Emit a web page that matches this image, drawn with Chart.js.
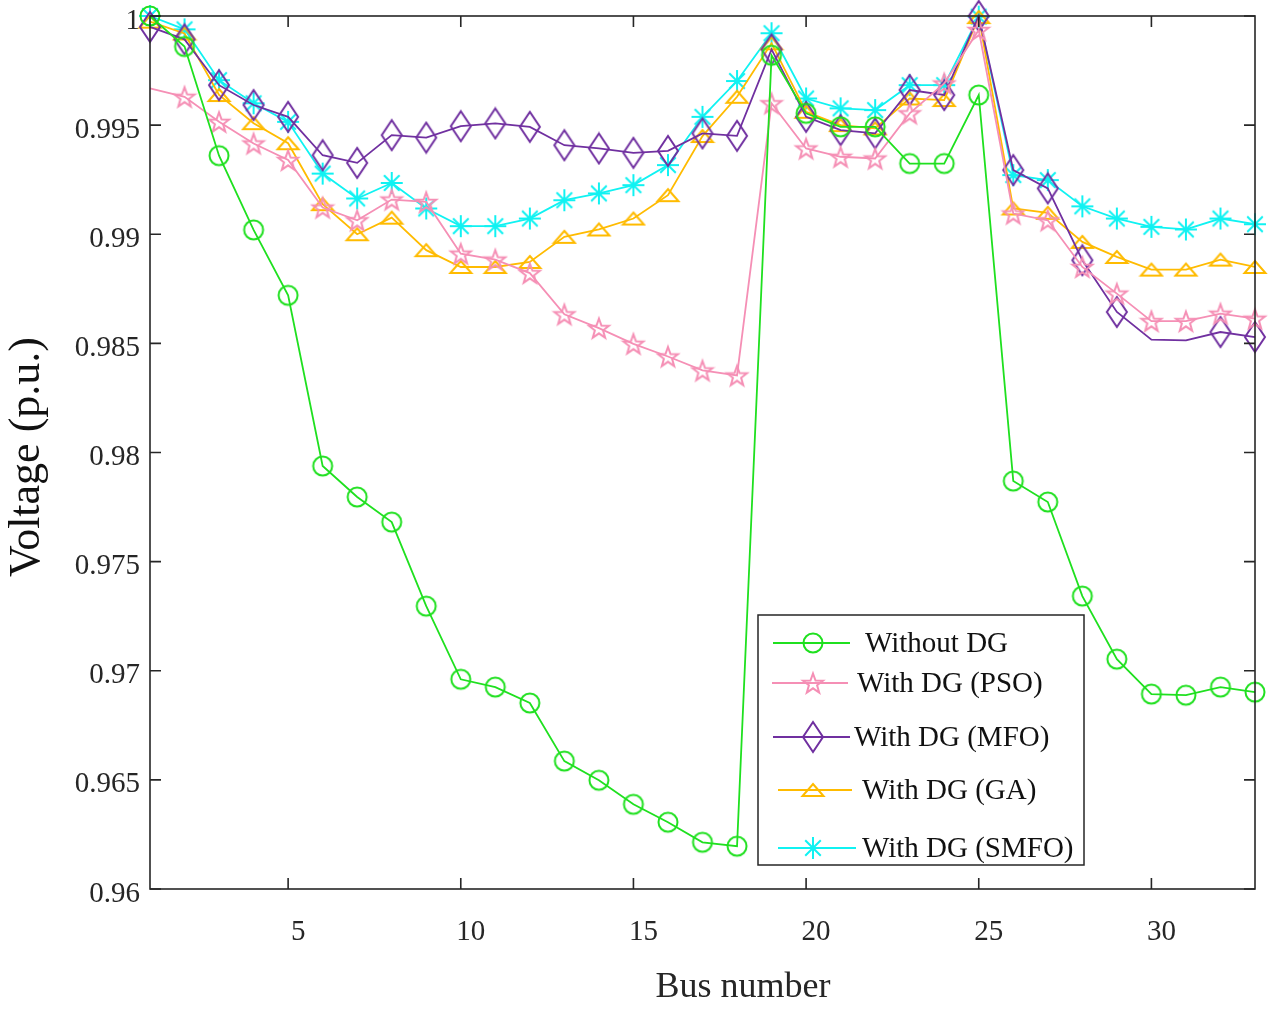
<!DOCTYPE html>
<html><head><meta charset="utf-8">
<script src="https://cdn.jsdelivr.net/npm/chart.js@4.4.1/dist/chart.umd.min.js"></script>
<style>html,body{margin:0;padding:0;background:#fff;overflow:hidden}#wrap{width:1269px;height:1012px}</style>
</head><body><div id="wrap"><canvas id="c" width="1269" height="1012"></canvas></div>
<script>
const buses = [1,2,3,4,5,6,7,8,9,10,11,12,13,14,15,16,17,18,19,20,21,22,23,24,25,26,27,28,29,30,31,32,33];
const xTicks = [5,10,15,20,25,30];
const yTicks = [0.96,0.965,0.97,0.975,0.98,0.985,0.99,0.995,1];
const seriesNames = ['Without DG','With DG (PSO)','With DG (MFO)','With DG (GA)','With DG (SMFO)'];
const xTitle = 'Bus number';
const yTitle = 'Voltage (p.u.)';
const withoutDG = [1.0000,0.9986,0.9936,0.9902,0.9872,0.97938,0.97796,0.97681,0.97296,0.96961,0.96925,0.96852,0.96586,0.96498,0.96388,0.96306,0.96214,0.96196,0.9982,0.99554,0.99492,0.99492,0.99324,0.99324,0.99638,0.97869,0.97773,0.97342,0.97053,0.96893,0.96888,0.96925,0.96902];
const withPSO = [0.99668,0.9963,0.99515,0.99416,0.9934,0.99122,0.99064,0.99159,0.99148,0.98911,0.98884,0.98822,0.98633,0.9857,0.98498,0.9844,0.98376,0.98353,0.996,0.99393,0.99355,0.99347,0.99554,0.99691,0.99936,0.99095,0.99064,0.9885,0.98728,0.98602,0.98602,0.98636,0.98613];
const withMFO = [0.9995,0.99893,0.99683,0.99592,0.99538,0.99362,0.99327,0.99454,0.99443,0.99495,0.99508,0.99492,0.99408,0.99393,0.99373,0.99382,0.99462,0.99451,0.99847,0.99538,0.99477,0.99462,0.99661,0.99638,1.0,0.99294,0.9921,0.98881,0.98644,0.98517,0.98514,0.98552,0.98529];
const withGA = [0.99974,0.9992,0.99638,0.99509,0.99417,0.99138,0.99,0.99076,0.98927,0.9885,0.9885,0.98873,0.98988,0.99022,0.99072,0.99179,0.9945,0.9963,0.99875,0.99561,0.995,0.99485,0.99622,0.99615,0.99995,0.99118,0.99098,0.98965,0.98896,0.98838,0.98838,0.98884,0.9885];
const withSMFO = [1.0,0.99939,0.99706,0.996,0.99515,0.99278,0.99164,0.99235,0.99118,0.99037,0.99037,0.99072,0.99156,0.99187,0.99225,0.99317,0.99538,0.99702,0.99921,0.99622,0.99577,0.99569,0.99683,0.99683,0.99997,0.99271,0.99248,0.99128,0.99072,0.99034,0.99022,0.99072,0.99046];
// buses without a drawn marker
const psoNoMarker = [1];
const mfoNoMarker = [30,31];

const colors = ['#1fe01f','#f58fb5','#7030a0','#ffbb00','#10f2f2'];

function mk(w,h,fn){const c=document.createElement('canvas');c.width=w;c.height=h;const g=c.getContext('2d');g.lineWidth=2;g.lineJoin='miter';fn(g,w/2,h/2);return c;}
const mCircle = mk(24,24,(g,cx,cy)=>{g.strokeStyle=colors[0];g.beginPath();g.arc(cx,cy,9.5,0,Math.PI*2);g.stroke();});
const mStar = mk(26,26,(g,cx,cy)=>{g.strokeStyle=colors[1];g.beginPath();for(let i=0;i<10;i++){const r=i%2?4.3:10.5;const a=-Math.PI/2+i*Math.PI/5;const x=cx+r*Math.cos(a),y=cy+1+r*Math.sin(a);i?g.lineTo(x,y):g.moveTo(x,y);}g.closePath();g.stroke();});
const mDiamond = mk(24,34,(g,cx,cy)=>{g.strokeStyle=colors[2];g.beginPath();g.moveTo(cx,cy-15);g.lineTo(cx+10,cy);g.lineTo(cx,cy+15);g.lineTo(cx-10,cy);g.closePath();g.stroke();});
const mTri = mk(26,18,(g,cx,cy)=>{g.strokeStyle=colors[3];g.beginPath();g.moveTo(cx,cy-6);g.lineTo(cx+10.5,cy+6);g.lineTo(cx-10.5,cy+6);g.closePath();g.stroke();});
const mAst = mk(28,28,(g,cx,cy)=>{g.strokeStyle=colors[4];g.beginPath();for(let i=0;i<4;i++){const a=i*Math.PI/4;g.moveTo(cx-11*Math.cos(a),cy-11*Math.sin(a));g.lineTo(cx+11*Math.cos(a),cy+11*Math.sin(a));}g.stroke();});
const markers=[mCircle,mStar,mDiamond,mTri,mAst];

const seriesVals=[withoutDG,withPSO,withMFO,withGA,withSMFO];
const noMarker=[[],psoNoMarker,mfoNoMarker,[],[]];

const datasets = seriesVals.map((vals,i)=>({
  label: seriesNames[i],
  data: buses.map((b,j)=>({x:b,y:vals[j]})),
  borderColor: colors[i],
  backgroundColor: 'transparent',
  borderWidth: 1.8,
  pointStyle: markers[i],
  pointRadius: buses.map(b=>noMarker[i].includes(b)?0:8),
  pointHoverRadius: 8,
  tension: 0,
  clip: false
}));

const SERIF='"Liberation Serif", "Times New Roman", serif';
const frame = {
  id:'frame',
  afterDraw(chart){
    const ctx=chart.ctx, a=chart.chartArea, xs=chart.scales.x, ys=chart.scales.y;
    ctx.save();
    ctx.strokeStyle='#262626'; ctx.lineWidth=1.6;
    ctx.strokeRect(a.left,a.top,a.right-a.left,a.bottom-a.top);
    ctx.beginPath();
    const tl=11;
    xTicks.forEach(v=>{const px=xs.getPixelForValue(v);ctx.moveTo(px,a.bottom);ctx.lineTo(px,a.bottom-tl);ctx.moveTo(px,a.top);ctx.lineTo(px,a.top+tl);});
    yTicks.forEach(v=>{const py=ys.getPixelForValue(v);ctx.moveTo(a.left,py);ctx.lineTo(a.left+tl,py);ctx.moveTo(a.right,py);ctx.lineTo(a.right-tl,py);});
    ctx.stroke();
    // axis titles
    ctx.fillStyle='#262626'; ctx.textAlign='center'; ctx.textBaseline='middle';
    ctx.font='36px '+SERIF;
    ctx.fillText(xTitle,743,988);
    ctx.save(); ctx.translate(27,457); ctx.rotate(-Math.PI/2);
    ctx.fillStyle='#111'; ctx.font='44px '+SERIF; ctx.fillText(yTitle,0,0); ctx.restore();
    // legend
    const L=758,T=615,R=1084,B=865;
    ctx.fillStyle='#fff'; ctx.fillRect(L,T,R-L,B-T);
    ctx.strokeStyle='#262626'; ctx.lineWidth=1.5; ctx.strokeRect(L,T,R-L,B-T);
    const rowY=[643,683,737,790,848];
    const textX=[865,857,854,862,862];
    const lineX=[[773,850],[772,848],[773,850],[778,852],[778,856]];
    ctx.font='29px '+SERIF;
    ctx.textBaseline='middle'; ctx.textAlign='left';
    chart.data.datasets.forEach((d,i)=>{
      const y=rowY[i];
      ctx.strokeStyle=colors[i]; ctx.lineWidth=1.8;
      ctx.beginPath(); ctx.moveTo(lineX[i][0],y); ctx.lineTo(lineX[i][1],y); ctx.stroke();
      const m=markers[i]; ctx.drawImage(m,813-m.width/2,y-m.height/2);
      ctx.fillStyle='#111'; ctx.fillText(d.label,textX[i],y+1);
    });
    ctx.restore();
  }
};

new Chart(document.getElementById('c'),{
  type:'line',
  data:{datasets},
  options:{
    responsive:false, animation:false, devicePixelRatio:1,
    events:[],
    layout:{padding:{top:16,right:14,left:0,bottom:0}},
    plugins:{legend:{display:false},tooltip:{enabled:false}},
    scales:{
      x:{type:'linear',min:1,max:33,
        afterBuildTicks(s){s.ticks=xTicks.map(v=>({value:v}));},
        afterFit(s){s.height=123;s.paddingLeft=0;s.paddingRight=0;},
        grid:{display:false,drawTicks:false},border:{display:false},
        ticks:{color:'#262626',padding:26,labelOffset:10,maxRotation:0,font:{family:SERIF,size:29},callback:v=>String(v)},
        title:{display:false}
      },
      y:{type:'linear',min:0.96,max:1,
        afterBuildTicks(s){s.ticks=yTicks.map(v=>({value:v}));},
        afterFit(s){s.width=150;s.paddingTop=0;s.paddingBottom=0;},
        grid:{display:false,drawTicks:false},border:{display:false},
        ticks:{color:'#262626',padding:10,labelOffset:5,font:{family:SERIF,size:29},callback:v=>String(parseFloat(Number(v).toFixed(3)))},
        title:{display:false}
      }
    }
  },
  plugins:[frame]
});
</script></body></html>
